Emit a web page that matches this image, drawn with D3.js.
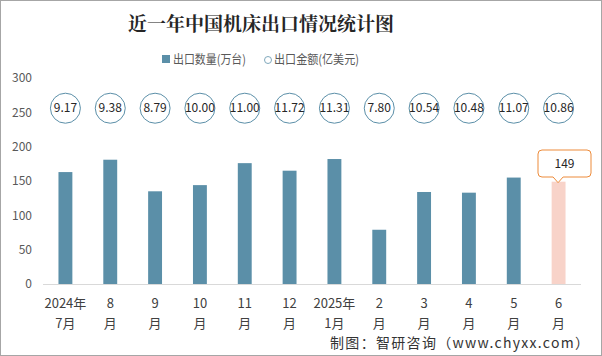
<!DOCTYPE html>
<html><head><meta charset="utf-8">
<script src="https://cdn.jsdelivr.net/npm/d3@7"></script>
<style>body{margin:0;background:#fff;}svg{display:block;font-family:"Microsoft YaHei","Noto Sans CJK SC",sans-serif;}</style>
</head><body>
<script>
const categoriesLine1 = ["2024年","8","9","10","11","12","2025年","2","3","4","5","6"];
const categoriesLine2 = ["7月","月","月","月","月","月","1月","月","月","月","月","月"];
const quantity = [163, 181, 135, 144, 176, 165, 182, 79, 134, 133, 155, 149];
const amount = ["9.17","9.38","8.79","10.00","11.00","11.72","11.31","7.80","10.54","10.48","11.07","10.86"];
const yTicks = [0, 50, 100, 150, 200, 250, 300];

(function(){
const W = 602, H = 356;
const svg = d3.select("body").append("svg").attr("width", W).attr("height", H);
svg.append("rect").attr("x",0.5).attr("y",0.5).attr("width",W-1).attr("height",H-1).attr("fill","#fff").attr("stroke","#a6a6a6");

const x = d3.scaleBand().domain(d3.range(quantity.length)).range([43, 581]).paddingInner(0.69).paddingOuter(0.345);
const y = d3.scaleLinear().domain([0, 300]).range([284, 78]);

// title
svg.append("text").attr("x", 261).attr("y", 31).attr("text-anchor","middle")
  .attr("font-size", 19).attr("font-weight","bold").attr("fill","#262626")
  .attr("font-family","'Noto Serif CJK SC','Noto Sans CJK SC',serif").text("近一年中国机床出口情况统计图");

// legend
const lg = svg.append("g").attr("font-size", 12.5).attr("fill","#595959");
lg.append("rect").attr("x",162).attr("y",55).attr("width",8).attr("height",8).attr("fill","#5b8fa8");
lg.append("text").attr("x",173).attr("y",64).attr("textLength",73).attr("lengthAdjust","spacingAndGlyphs").text("出口数量(万台)");
lg.append("circle").attr("cx",268).attr("cy",60).attr("r",3.5).attr("fill","none").attr("stroke","#7fa8bc");
lg.append("text").attr("x",274).attr("y",64).attr("textLength",85).attr("lengthAdjust","spacingAndGlyphs").text("出口金额(亿美元)");

// y axis labels
const ya = svg.append("g").attr("transform","translate(32,0)")
  .call(d3.axisLeft(y).tickValues(yTicks).tickSize(0).tickPadding(0));
ya.select(".domain").remove();
ya.selectAll("text").attr("font-size",12).attr("fill","#595959").attr("font-family","'Microsoft YaHei','Noto Sans CJK SC',sans-serif");

// baseline
svg.append("line").attr("x1",43).attr("x2",581).attr("y1",y(0)+0.5).attr("y2",y(0)+0.5).attr("stroke","#d9d9d9");

// bars
svg.append("g").selectAll("rect").data(quantity).join("rect")
  .attr("x",(d,i)=>x(i)).attr("width",x.bandwidth())
  .attr("y",d=>y(d)).attr("height",d=>y(0)-y(d))
  .attr("fill",(d,i)=> i===quantity.length-1 ? "#f8d3c9" : "#5b8fa8");

// x labels
const xl = svg.append("g").attr("font-size",13).attr("fill","#404040").attr("text-anchor","middle");
xl.selectAll("text.l1").data(categoriesLine1).join("text").attr("class","l1")
  .attr("x",(d,i)=>x(i)+x.bandwidth()/2).attr("y",308).text(d=>d);
xl.selectAll("text.l2").data(categoriesLine2).join("text").attr("class","l2")
  .attr("x",(d,i)=>x(i)+x.bandwidth()/2).attr("y",328).text(d=>d);

// amount circles
const cg = svg.append("g").selectAll("g").data(amount).join("g")
  .attr("transform",(d,i)=>`translate(${x(i)+x.bandwidth()/2},${y(256)})`);
cg.append("circle").attr("r",15).attr("fill","#fff").attr("stroke","#5b8fa8").attr("stroke-width",1);
cg.append("text").attr("text-anchor","middle").attr("dy","0.35em").attr("font-size",12).attr("fill","#262626").text(d=>d);

// callout for last bar
const li = quantity.length-1;
const cx = x(li)+x.bandwidth()/2;
const barTop = y(quantity[li]);
const bx0 = 538, bx1 = 591, by0 = 150, by1 = 177, r = 4;
const px = cx - 0.5;
const path = `M${bx0+r},${by0} H${bx1-r} Q${bx1},${by0} ${bx1},${by0+r} V${by1-r} Q${bx1},${by1} ${bx1-r},${by1} H${px+5} L${px},${barTop+1} L${px-5},${by1} H${bx0+r} Q${bx0},${by1} ${bx0},${by1-r} V${by0+r} Q${bx0},${by0} ${bx0+r},${by0} Z`;
svg.append("path").attr("d",path).attr("fill","#fff").attr("stroke","#ed8b3a").attr("stroke-width",1);
svg.append("text").attr("x",(bx0+bx1)/2).attr("y",167.5).attr("text-anchor","middle").attr("font-size",12).attr("fill","#262626").text(quantity[li]);

// source
svg.append("text").attr("x",330).attr("y",348).attr("font-size",14).attr("fill","#333")
  .attr("textLength",259).attr("lengthAdjust","spacing")
  .text("制图：智研咨询（www.chyxx.com）");
})();
</script>
</body></html>
